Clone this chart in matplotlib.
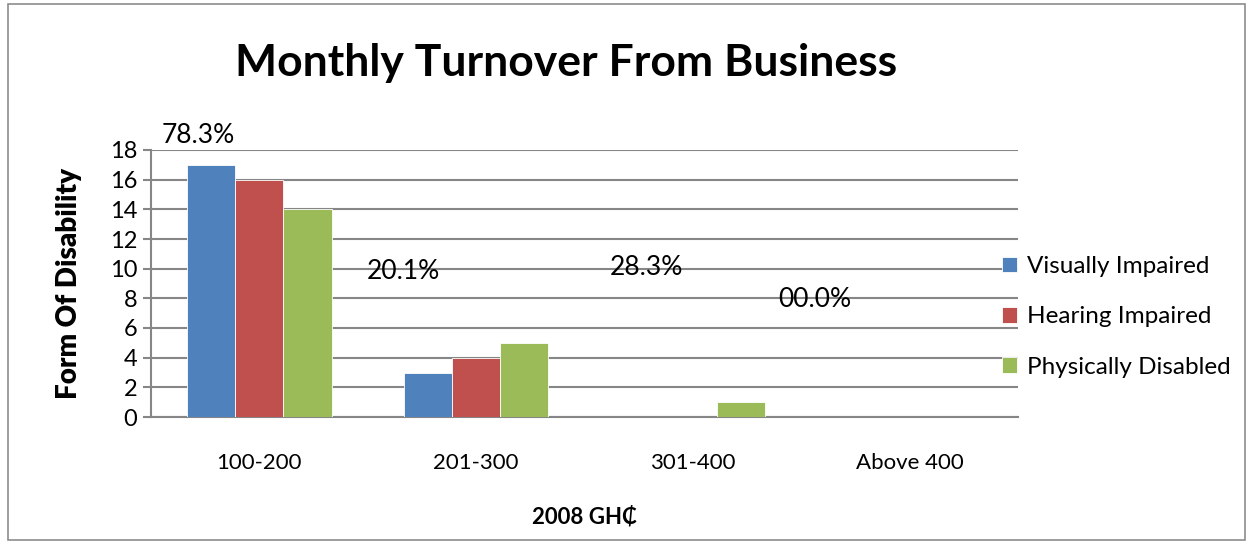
import numpy as np
import matplotlib.pyplot as plt
from matplotlib.patches import Rectangle

categories = ['100-200', '201-300', '301-400', 'Above 400']
series_names = ['Visually Impaired', 'Hearing Impaired', 'Physically Disabled']
visually = [17, 3, 0, 0]
hearing = [16, 4, 0, 0]
physically = [14, 5, 1, 0]
pct_labels = ['78.3%', '20.1%', '28.3%', '00.0%']

colors = ['#4f81bd', '#c0504d', '#9bbb59']
grid_col = '#868686'
font = ['Lato', 'DejaVu Sans']
plt.rcParams['font.family'] = font

fig = plt.figure(figsize=(12.53, 5.44), dpi=100)
ax = fig.add_axes([151 / 1253, 1 - 417 / 544, 867 / 1253, 267 / 544])

x = np.arange(len(categories))
w = 0.222
for i, vals in enumerate([visually, hearing, physically]):
    ax.bar(x + (i - 1) * w, vals, width=w, color=colors[i], label=series_names[i],
           edgecolor='white', linewidth=0.6, zorder=3)

ax.set_xlim(-0.5, len(categories) - 0.5)
ax.set_ylim(0, 18)
ax.set_yticks(range(0, 19, 2))
ax.yaxis.grid(True, color=grid_col, linewidth=1.5, zorder=0)
ax.set_axisbelow(True)
ax.set_xticks(x)
ax.set_xticklabels(categories, fontsize=16)
ax.tick_params(axis='x', length=0, pad=26)
ax.tick_params(axis='y', length=6, width=1.5, color=grid_col, labelsize=17, pad=4)
for s in ['top', 'right']:
    ax.spines[s].set_visible(False)
ax.spines['left'].set_color(grid_col)
ax.spines['left'].set_linewidth(1.5)
ax.spines['bottom'].set_color(grid_col)
ax.spines['bottom'].set_linewidth(1.5)

ax.set_ylabel('Form Of Disability', fontsize=20, fontweight='heavy', labelpad=20)
ax.set_xlabel('2008 GH\u20b5', fontsize=16, fontweight='bold', labelpad=24)

# percentage notes placed like the original text boxes
pct_pos = [(-0.28, 19.0), (0.663, 9.78), (1.788, 10.05), (2.563, 7.9)]
for lab, (px, py) in zip(pct_labels, pct_pos):
    ax.text(px, py, lab, fontsize=19, ha='center', va='center', clip_on=False)

fig.text(566 / 1253, 1 - 63 / 544, 'Monthly Turnover From Business', fontsize=32,
         fontweight='bold', ha='center', va='center')

ax.legend(loc='center left', bbox_to_anchor=(0.982, 0.375), frameon=False, fontsize=17.5,
          handlelength=0.6, handleheight=0.6, handletextpad=0.4, labelspacing=1.2,
          borderaxespad=0, borderpad=0)

fig.patches.append(Rectangle((8 / 1253, 4 / 544), 1237 / 1253, 536 / 544,
                             transform=fig.transFigure, fill=False,
                             edgecolor='#8c8c8c', linewidth=1.2))

fig.savefig('out.png', dpi=100)
